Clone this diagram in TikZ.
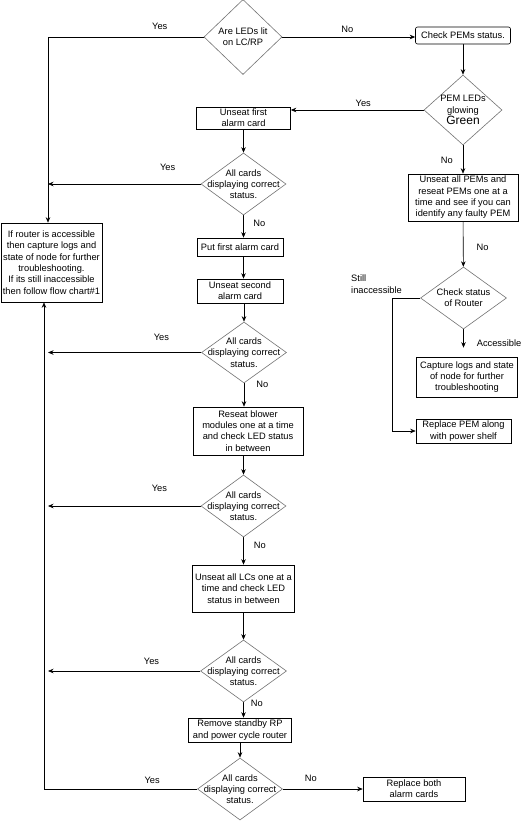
\documentclass[tikz,border=0pt]{standalone}
\usepackage{fontspec}
\setmainfont{Liberation Sans}
\usetikzlibrary{shapes.geometric}
\usetikzlibrary{arrows.meta}
\pgfdeclarelayer{edgelayer}
\pgfdeclarelayer{nodelayer}
\pgfsetlayers{edgelayer,nodelayer,main}
\tikzstyle{action}=[rectangle,draw=black,fill=white,align=center,inner xsep=1pt,inner ysep=1pt,line width=0.6pt]
\tikzstyle{rounded_action}=[action,rounded corners=2pt]
\tikzstyle{decision}=[diamond,draw=black!55,fill=white,inner sep=0pt,line width=0.6pt]
\tikzstyle{decision_text}=[align=center,inner sep=0pt]
\tikzstyle{answer}=[inner sep=0pt]
\tikzstyle{transition}=[-{Stealth[length=5.5pt,width=4.5pt]},draw=black,line width=0.6pt]

\begin{document}
\begin{tikzpicture}[x=1pt,y=-1pt,every node/.style={font=\fontsize{9.3}{11.3}\selectfont}]
	\useasboundingbox (0,0) rectangle (531,822);
	\begin{pgfonlayer}{nodelayer}
		% main column
		\node [style=decision, minimum width=78pt, minimum height=75pt, label={[decision_text]center:Are LEDs lit\\on LC/RP}] (0) at (243, 37) {};
		\node [style=action, minimum width=94pt, minimum height=22pt] (3) at (243.5, 118) {Unseat first\\alarm card};
		\node [style=decision, minimum width=85pt, minimum height=62pt, label={[decision_text]center:All cards\\displaying correct\\status.}] (4) at (243.5, 184) {};
		\node [style=action, minimum width=86pt, minimum height=18pt] (5) at (240, 247) {Put first alarm card};
		\node [style=action, minimum width=86pt, minimum height=24pt] (6) at (240, 291) {Unseat second\\alarm card};
		\node [style=decision, minimum width=85pt, minimum height=61pt, label={[decision_text]center:All cards\\displaying correct\\status.}] (7) at (244, 352.5) {};
		\node [style=action, minimum width=110pt, minimum height=48pt] (8) at (248, 431) {Reseat blower\\modules one at a time\\and check LED status\\in between};
		\node [style=decision, minimum width=85pt, minimum height=62pt, label={[decision_text]center:All cards\\displaying correct\\status.}] (9) at (243.5, 506) {};
		\node [style=action, minimum width=102pt, minimum height=47pt] (10) at (243.5, 588.5) {Unseat all LCs one at a\\time and check LED\\status in between};
		\node [style=decision, minimum width=86pt, minimum height=62pt, label={[decision_text]center:All cards\\displaying correct\\status.}] (11) at (243.5, 671) {};
		\node [style=action, minimum width=103pt, minimum height=24pt] (12) at (240, 730) {Remove standby RP\\and power cycle router};
		\node [style=decision, minimum width=85pt, minimum height=62pt, label={[decision_text]center:All cards\\displaying correct\\status.}] (13) at (240, 789) {};
		\node [style=action, minimum width=102pt, minimum height=24pt] (14) at (414, 789) {Replace both\\alarm cards};
		% left box
		\node [style=action, minimum width=101pt, minimum height=79pt] (15) at (51.5, 262.5) {If router is accessible\\then capture logs and\\state of node for further\\troubleshooting.\\If its still inaccessible\\then follow flow chart\#1};
		% right column
		\node [style=rounded_action, minimum width=95pt, minimum height=17pt] (1) at (463, 35.5) {Check PEMs status.};
		\node [style=decision, minimum width=78pt, minimum height=70pt, label={[decision_text]center:PEM LEDs\\glowing\\{\fontsize{12}{13}\selectfont Green}}] (2) at (463, 110) {};
		\node [style=action, minimum width=110pt, minimum height=47pt] (16) at (463, 197.5) {Unseat all PEMs and\\reseat PEMs one at a\\time and see if you can\\identify any faulty PEM};
		\node [style=decision, minimum width=86pt, minimum height=62pt, label={[decision_text]center:Check status\\of Router}] (17) at (463.5, 298) {};
		\node [style=action, minimum width=101pt, minimum height=40pt] (18) at (467, 377) {Capture logs and state\\of node for further\\troubleshooting};
		\node [style=action, minimum width=95pt, minimum height=24pt] (19) at (463.5, 431) {Replace PEM along\\with power shelf};
		\coordinate (c1) at (48, 0);
		\coordinate (c2) at (44, 0);
		\coordinate (c3) at (392, 0);
	\end{pgfonlayer}
	\begin{pgfonlayer}{edgelayer}
		\draw [style=transition] (0.west) -| node[style=answer, pos=0.141, above=7pt]{Yes} (c1 |- 15.north);
		\draw [style=transition] (0.east) to node[style=answer, pos=0.49, above=4.5pt]{No} (0.east -| 1.west);
		\draw [style=transition] (1) to (2);
		\draw [style=transition] (2.west) to node[style=answer, pos=0.455, above=3.5pt]{Yes} (2.west -| 3.east);
		\draw [style=transition] (3) to (4);
		\draw [style=transition] (4.west) to node[style=answer, pos=0.216, above=13pt]{Yes} (4.west -| c1);
		\draw [style=transition] (4.south) to node[style=answer, pos=0.35, right=9.5pt]{No} (4.south |- 5.north);
		\draw [style=transition] (5.south -| 4.south) to (6.north -| 4.south);
		\draw [style=transition] (6.south -| 7.north) to (7.north);
		\draw [style=transition] (7.west) to node[style=answer, pos=0.26, above=12pt]{Yes} (7.west -| c1);
		\draw [style=transition] (7.south) to node[style=answer, pos=0.05, right=12pt]{No} (7.south |- 8.north);
		\draw [style=transition] (8.south -| 9.north) to (9.north);
		\draw [style=transition] (9.west) to node[style=answer, pos=0.27, above=14.5pt]{Yes} (9.west -| c1);
		\draw [style=transition] (9) to node[style=answer, pos=0.29, right=10pt]{No} (10);
		\draw [style=transition] (10) to (11);
		\draw [style=transition] (11.west) to node[style=answer, pos=0.32, above=6.5pt]{Yes} (11.west -| c1);
		\draw [style=transition] (11.south) to node[style=answer, pos=0.06, right=7pt]{No} (11.south |- 12.north);
		\draw [style=transition] (12) to (13);
		\draw [style=transition] (13.west) -| node[style=answer, pos=0.147, above=5.5pt]{Yes} (c2 |- 15.south);
		\draw [style=transition] (13.east) to node[style=answer, pos=0.35, above=7.5pt]{No} (14.west);
		\draw [style=transition] (2) to node[style=answer, pos=0.52, left=10pt]{No} (16);
		\draw [style=transition] (16) to node[style=answer, pos=0.57, right=13pt]{No} (17);
		\draw [style=transition, shorten >=9pt] (17.south) to node[style=answer, pos=0.5, right=13pt]{Accessible} (17.south |- 18.north);
		\draw [style=transition] (17.west) -- node[style=answer, at start, anchor=south east, align=left, xshift=-18pt, yshift=4.5pt]{Still\\inaccessible} (17.west -| c3) |- (19.west);
	\end{pgfonlayer}
\end{tikzpicture}
\end{document}
